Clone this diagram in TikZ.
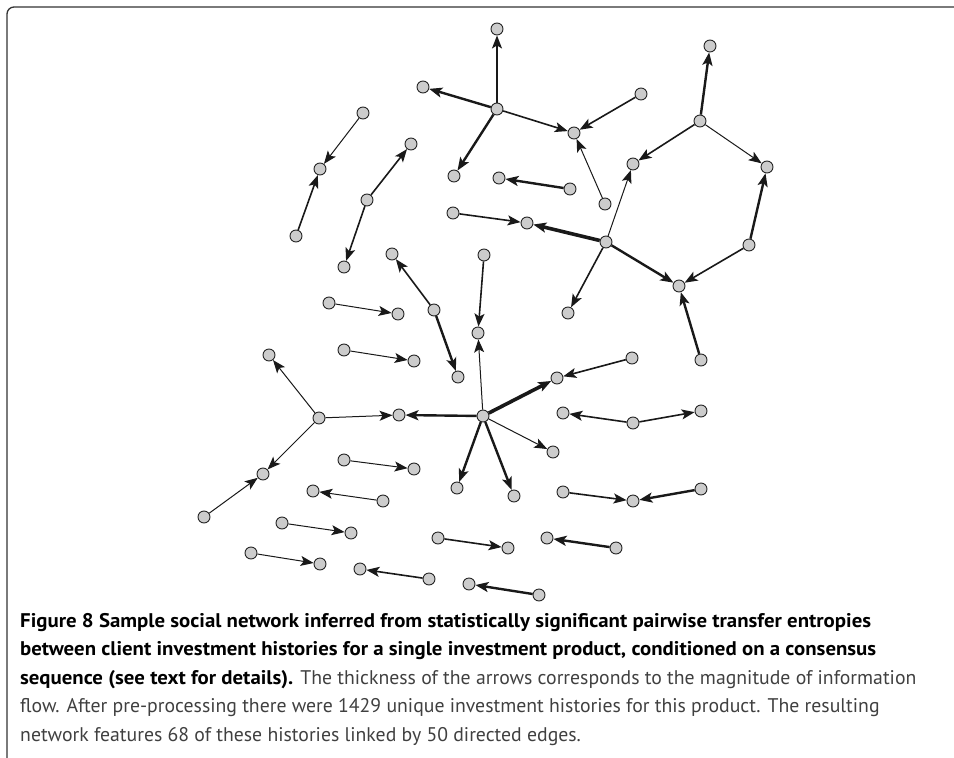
\documentclass[tikz,border=0pt]{standalone}
\usepackage{fontspec}
\usepackage{xcolor}
\newfontfamily\capfont{PT Sans}[BoldFeatures={FakeStretch=1.055}]
\usetikzlibrary{arrows.meta}

\begin{document}
\begin{tikzpicture}[x=1pt, y=-1pt, >={Stealth[length=13pt,width=10pt,inset=3pt]},
  hist/.style={circle,draw=black!85,line width=0.9pt,fill=gray!40,inner sep=0pt,minimum size=12pt},
  weak/.style={line width=1pt,->,black!90},
  mid/.style={line width=1.6pt,->,black!90},
  strong/.style={line width=2.4pt,->,black!90},
  vstrong/.style={line width=3.6pt,->,black!90},
  frame/.style={line width=1.3pt,black!80,rounded corners=7pt}]
  \useasboundingbox (0,0) rectangle (954,758);
  \draw[frame] (7,758) -- (7,7) -- (954,7);

  % top cluster
  \node[hist] (p)  at (497,109) {};
  \node[hist] (p1) at (497,29)  {};
  \node[hist] (p2) at (423,87)  {};
  \node[hist] (p3) at (454,176) {};
  \node[hist] (p4) at (574,133) {};
  \node[hist] (p5) at (641,94)  {};
  \node[hist] (p6) at (605,204) {};

  % small chains, upper left
  \node[hist] (b1) at (363,113) {};
  \node[hist] (b2) at (320,169) {};
  \node[hist] (b3) at (296,236) {};
  \node[hist] (c1) at (367,200) {};
  \node[hist] (c2) at (411,144) {};
  \node[hist] (c3) at (344,267) {};
  \node[hist] (d1) at (570,189) {};
  \node[hist] (d2) at (499,178) {};

  % right cluster with the ring
  \node[hist] (r)  at (606,242) {};
  \node[hist] (r1) at (453,213) {};
  \node[hist] (r2) at (527,223) {};
  \node[hist] (r3) at (633,164) {};
  \node[hist] (r4) at (568,313) {};
  \node[hist] (r5) at (679,286) {};
  \node[hist] (r6) at (700,121) {};
  \node[hist] (r7) at (710,46)  {};
  \node[hist] (r8) at (767,167) {};
  \node[hist] (r9) at (749,245) {};
  \node[hist] (r10) at (701,360) {};

  % middle chain
  \node[hist] (f)  at (434,310) {};
  \node[hist] (f1) at (392,254) {};
  \node[hist] (f2) at (458,377) {};

  % central cluster
  \node[hist] (g)   at (483,416) {};
  \node[hist] (g1)  at (484,255) {};
  \node[hist] (g2)  at (478,333) {};
  \node[hist] (g3)  at (399,415) {};
  \node[hist] (g4)  at (319,418) {};
  \node[hist] (g5)  at (269,355) {};
  \node[hist] (g6)  at (263,474) {};
  \node[hist] (g7)  at (204,517) {};
  \node[hist] (g8)  at (557,378) {};
  \node[hist] (g9)  at (632,358) {};
  \node[hist] (g10) at (553,452) {};
  \node[hist] (g11) at (457,488) {};
  \node[hist] (g12) at (514,496) {};

  % isolated pairs
  \node[hist] (s1) at (329,303) {};  \node[hist] (t1) at (398,314) {};
  \node[hist] (s2) at (344,350) {};  \node[hist] (t2) at (414,361) {};
  \node[hist] (s3) at (344,460) {};  \node[hist] (t3) at (414,469) {};
  \node[hist] (s4) at (383,501) {};  \node[hist] (t4) at (313,491) {};
  \node[hist] (s5) at (282,523) {};  \node[hist] (t5) at (351,533) {};
  \node[hist] (s6) at (251,553) {};  \node[hist] (t6) at (320,564) {};
  \node[hist] (s7) at (429,579) {};  \node[hist] (t7) at (360,569) {};
  \node[hist] (s8) at (438,538) {};  \node[hist] (t8) at (508,548) {};
  \node[hist] (s9) at (539,595) {};  \node[hist] (t9) at (469,584) {};
  \node[hist] (s10) at (616,548) {}; \node[hist] (t10) at (547,538) {};

  % pairs sharing a node
  \node[hist] (u)  at (633,423) {};
  \node[hist] (u1) at (563,413) {};
  \node[hist] (u2) at (701,411) {};
  \node[hist] (v)  at (633,501) {};
  \node[hist] (v1) at (563,492) {};
  \node[hist] (v2) at (701,489) {};

  % directed edges, by strength of the flow
  \foreach \a/\b in {p6/p4, b1/b2, r/r3, r6/r8, g/g2, g4/g3, g4/g5, g4/g6, g7/g6, g/g10,
                     s1/t1, s2/t2, s3/t3, s4/t4, s5/t5, s6/t6}
    \draw[weak] (\a) -- (\b);
  \foreach \a/\b in {p/p1, p/p4, p5/p4, b3/b2, c1/c2, c1/c3, r1/r2, r/r4, r6/r3, r9/r5,
                     f/f1, g1/g2, g9/g8, s7/t7, s8/t8, u/u1, u/u2, v1/v}
    \draw[mid] (\a) -- (\b);
  \foreach \a/\b in {p/p2, p/p3, d1/d2, r/r5, r6/r7, r9/r8, r10/r5, f/f2, g/g3, g/g11, g/g12,
                     s9/t9, s10/t10, v2/v}
    \draw[strong] (\a) -- (\b);
  \foreach \a/\b in {r/r2, g/g8}
    \draw[vstrong] (\a) -- (\b);

  % caption
  \node[anchor=north west,inner sep=0pt,align=left,
        font=\capfont\fontsize{19.75}{28.5}\selectfont] (cap) at (20,613)
    {\textbf{Figure 8 Sample social network inferred from statistically significant pairwise transfer entropies}\\
     \textbf{between client investment histories for a single investment product, conditioned on a consensus}\\
     \textbf{sequence (see text for details).} {\color{black!75}The thickness of the arrows corresponds to the magnitude of information}\\
     {\color{black!75}flow. After pre-processing there were 1429 unique investment histories for this product. The resulting}\\
     {\color{black!75}network features 68 of these histories linked by 50 directed edges.}};
\end{tikzpicture}
\end{document}
